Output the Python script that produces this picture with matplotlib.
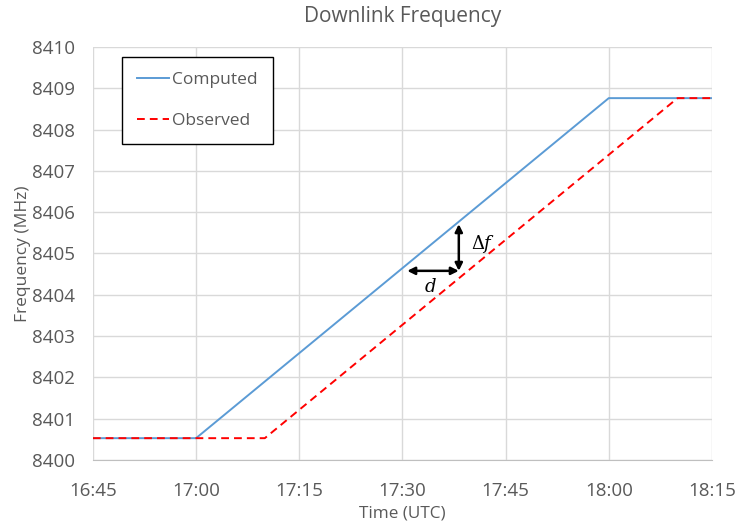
import matplotlib
import matplotlib.pyplot as plt

matplotlib.use('Agg')

plt.rcParams['font.family'] = ['Open Sans', 'DejaVu Sans']
plt.rcParams['mathtext.fontset'] = 'dejavuserif'

# minutes after 16:45
computed_t = [0, 15, 75, 90]
computed_f = [8400.53, 8400.53, 8408.76, 8408.76]
observed_t = [0, 25, 85, 90]
observed_f = [8400.53, 8400.53, 8408.76, 8408.76]

tick_pos = [0, 15, 30, 45, 60, 75, 90]
tick_labels = ['16:45', '17:00', '17:15', '17:30', '17:45', '18:00', '18:15']

# delta f / d arrows
arrow_t = 53.2
arrow_top = 8405.71
arrow_bottom = 8404.58
d_left = 45.7

grey = '#595959'

fig = plt.figure(figsize=(7.37, 5.27), dpi=100)
ax = fig.add_axes([0.126, 0.127, 0.84, 0.784])

ax.plot(computed_t, computed_f, color='#5B9BD5', lw=1.4, label='Computed')
ax.plot(observed_t, observed_f, color='#FF0000', lw=1.4, ls=(0, (4, 2.6)), label='Observed')

ax.annotate('', xy=(arrow_t, arrow_top), xytext=(arrow_t, arrow_bottom),
            arrowprops=dict(arrowstyle='<|-|>', color='black', lw=1.8,
                            mutation_scale=11, shrinkA=0, shrinkB=0))
ax.annotate('', xy=(d_left, arrow_bottom), xytext=(arrow_t, arrow_bottom),
            arrowprops=dict(arrowstyle='<|-|>', color='black', lw=1.8,
                            mutation_scale=11, shrinkA=0, shrinkB=0))
ax.text(55.0, 8405.22, r'$\Delta f$', fontsize=13, va='center', ha='left')
ax.text(49.0, 8404.18, r'$d$', fontsize=13, va='center', ha='center')

ax.set_xlim(0, 90)
ax.set_ylim(8400, 8410)
ax.set_xticks(tick_pos)
ax.set_xticklabels(tick_labels)
ax.set_yticks(range(8400, 8411))
ax.tick_params(length=0, labelsize=13.5, colors=grey)
ax.tick_params(axis='x', pad=16)
ax.tick_params(axis='y', pad=13)
ax.grid(color='#d9d9d9', lw=1)
ax.set_axisbelow(True)
for s in ['top', 'right', 'left']:
    ax.spines[s].set_visible(False)
ax.spines['bottom'].set_color('#bfbfbf')

ax.set_title('Downlink Frequency', fontsize=15, color=grey, pad=18)
ax.set_xlabel('Time (UTC)', fontsize=12.3, color=grey, labelpad=4)
ax.set_ylabel('Frequency (MHz)', fontsize=12.5, color=grey, labelpad=0.5)

leg = ax.legend(loc='upper left', bbox_to_anchor=(0.047, 0.976), fontsize=12.5,
                fancybox=False, edgecolor='black', framealpha=1, labelcolor=grey,
                borderpad=0.85, labelspacing=1.45, handlelength=1.85, handletextpad=0.2,
                borderaxespad=0)
leg.get_frame().set_linewidth(1.0)

plt.savefig('out.png')
